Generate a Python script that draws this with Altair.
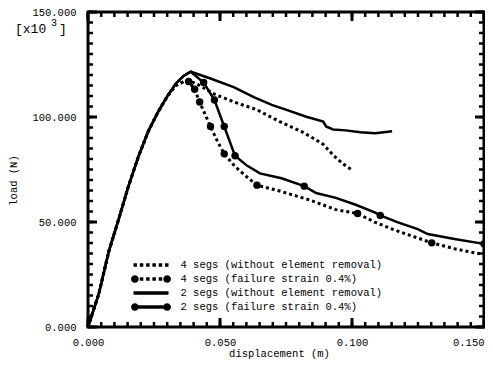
import altair as alt
import pandas as pd

FONT = "Liberation Mono"

# ---------------- data ----------------
# shared elastic branch
elastic2_x = [0.0, 0.00411, 0.00785, 0.01160, 0.01533, 0.01907, 0.02282, 0.02656, 0.03030, 0.03329, 0.0363, 0.0389]
elastic2_y = [0, 15840, 35870, 51240, 67080, 81050, 93160, 102480, 110390, 115980, 119700, 121570]
elastic4_x = [0.0, 0.00411, 0.00785, 0.01160, 0.01533, 0.01907, 0.02282, 0.02656, 0.03030, 0.0333, 0.0363]
elastic4_y = [0, 15840, 35870, 51240, 67080, 81050, 93160, 102480, 110390, 115050, 116900]

# 4 segs (without element removal)
s4a_x = [0.0381, 0.0415, 0.0479, 0.0554, 0.0640, 0.0726, 0.0815, 0.0890, 0.0931, 0.0965, 0.1002]
s4a_y = [117380, 115520, 110860, 107130, 103410, 97820, 92700, 87100, 81520, 77790, 74530]
# 4 segs (failure strain 0.4%)
s4b_x = [0.0381, 0.0404, 0.0423, 0.0464, 0.0490, 0.0516, 0.0557, 0.0595, 0.0640, 0.0726, 0.0838,
         0.0939, 0.1021, 0.1088, 0.1163, 0.1238, 0.1302, 0.1388, 0.1500]
s4b_y = [116920, 113190, 107130, 95490, 88500, 82450, 76390, 72200, 67540, 64750, 60550,
         55900, 54030, 49840, 46110, 42850, 40060, 37260, 34470]
# 2 segs (without element removal)
s2a_x = [0.0464, 0.0554, 0.0628, 0.0696, 0.0752, 0.0827, 0.0891, 0.0902, 0.0928, 0.0976, 0.1032, 0.1088, 0.1152]
s2a_y = [118310, 114120, 109460, 105740, 103410, 100150, 97820, 95490, 94090, 93630, 92700, 92230, 93160]
# 2 segs (failure strain 0.4%)
s2b_x = [0.0438, 0.0479, 0.0516, 0.0557, 0.0602, 0.0651, 0.0733, 0.0819, 0.0864, 0.0939, 0.1014,
         0.1088, 0.1107, 0.1174, 0.1249, 0.1287, 0.1388, 0.1500]
s2b_y = [116450, 108070, 95490, 81520, 76860, 73130, 70800, 67080, 63810, 61490, 58230,
         54500, 53100, 49840, 46580, 44250, 41920, 39590]

# circle markers
m4b_x = [0.0381, 0.0404, 0.0423, 0.0464, 0.0516, 0.0640, 0.1021, 0.1302]
m4b_y = [116920, 113190, 107130, 95490, 82450, 67540, 54030, 40060]
m2b_x = [0.0438, 0.0479, 0.0516, 0.0557, 0.0819, 0.1107, 0.1500]
m2b_y = [116450, 108070, 95490, 81520, 67080, 53100, 39590]

labels = ["4 segs (without element removal)", "4 segs (failure strain 0.4%)",
          "2 segs (without element removal)", "2 segs (failure strain 0.4%)"]

x_major = [0.0, 0.05, 0.10, 0.15]
y_major = [0, 50000, 100000, 150000]
x_minor = [round(0.005 * k, 4) for k in range(31)]
y_minor = [5000 * k for k in range(31)]

annot = ["[x10", "3", "]"]

W, H = 396, 315
XMAX, YMAX = 0.15, 150000

# ---------------- tables ----------------
rows = []
def add(name, xs, ys):
    for i, (a, b) in enumerate(zip(xs, ys)):
        rows.append({"series": name, "x": a, "y": b, "i": i})

add(labels[0], elastic4_x + s4a_x, elastic4_y + s4a_y)
add(labels[1], elastic4_x + s4b_x, elastic4_y + s4b_y)
add(labels[2], elastic2_x + s2a_x, elastic2_y + s2a_y)
add(labels[3], elastic2_x + s2b_x, elastic2_y + s2b_y)
df = pd.DataFrame(rows)

# inward ticks as small rectangles (length / width in pixels -> data units)
trows = []
def add_ticks(xv, yv, length, width):
    lx = length * XMAX / W
    ly = length * YMAX / H
    wx = width * XMAX / W / 2
    wy = width * YMAX / H / 2
    for v in xv:
        trows.append({"x": v - wx, "x2": v + wx, "y": 0, "y2": ly})
        trows.append({"x": v - wx, "x2": v + wx, "y": YMAX - ly, "y2": YMAX})
    for v in yv:
        trows.append({"x": 0, "x2": lx, "y": v - wy, "y2": v + wy})
        trows.append({"x": XMAX - lx, "x2": XMAX, "y": v - wy, "y2": v + wy})

add_ticks(x_minor, y_minor, 5, 2.5)
add_ticks(x_major, y_major, 9, 3)
ticks = pd.DataFrame(trows)

mk = pd.DataFrame({"x": m4b_x + m2b_x, "y": m4b_y + m2b_y})
legend_df = pd.DataFrame({"series": labels, "x": [0.0] * 4, "y": [0.0] * 4})

xscale = alt.Scale(domain=[0, XMAX], nice=False, zero=False)
yscale = alt.Scale(domain=[0, YMAX], nice=False, zero=False)

base_ax = dict(grid=False, domain=False, ticks=False,
               labelFont=FONT, labelFontSize=10.5,
               labelColor="black", titleFont=FONT, titleFontSize=10.5, titleColor="black",
               titleFontWeight="normal", labelFlush=False, labelOverlap=False)

x_axis = alt.Axis(orient="bottom", values=x_major, format=".3f", labelPadding=10,
                  labelAlign={"condition": {"test": "datum.value > 0.149", "value": "right"}, "value": "center"},
                  title="displacement (m)", titleX=191, titleY=26, titleBaseline="middle",
                  titleAlign="center", **base_ax)
y_axis = alt.Axis(orient="left", values=y_major, labelExpr="format(datum.value / 1000, '.3f')",
                  labelPadding=12, title="load (N)", titleAngle=270, titleX=-75, titleY=168,
                  titleBaseline="middle", titleAlign="center", **base_ax)

X = alt.X("x:Q", scale=xscale, axis=x_axis)
Y = alt.Y("y:Q", scale=yscale, axis=y_axis)

base = alt.Chart(df).encode(x=X, y=Y, detail="series:N", order="i:Q")

dotted = base.transform_filter(
    alt.FieldOneOfPredicate(field="series", oneOf=[labels[0], labels[1]])
).mark_line(color="black", strokeWidth=3, strokeDash=[3, 3], strokeCap="butt")

solid = base.transform_filter(
    alt.FieldOneOfPredicate(field="series", oneOf=[labels[2], labels[3]])
).mark_line(color="black", strokeWidth=2.5)

markers = alt.Chart(mk).mark_circle(color="black", size=55, opacity=1).encode(x=X, y=Y)

tick_layer = alt.Chart(ticks).mark_rect(color="black", opacity=1).encode(
    x=X, x2="x2:Q", y=Y, y2="y2:Q")

# ---------------- legend with custom symbols ----------------
def rect(x0, x1, h=0.25):
    return f"M{x0:.3f},{-h}H{x1:.3f}V{h}H{x0:.3f}Z"

def circ(cx, r=0.55):
    return f"M{cx - r:.3f},0A{r} {r} 0 1 1 {cx + r:.3f},0A{r} {r} 0 1 1 {cx - r:.3f},0Z"

p_dots = "".join(rect(-2.5 + 0.9 * i, -2.0 + 0.9 * i) for i in range(6))
p_dots_circ = circ(-2.3) + "".join(rect(c - 0.25, c + 0.25) for c in [-1.35, -0.45, 0.45, 1.35]) + circ(2.3)
p_solid = rect(-2.5, 2.5)
p_solid_circ = circ(-2.3) + rect(-2.3, 2.3) + circ(2.3)

legend_layer = alt.Chart(legend_df).transform_filter("datum.x < 0").mark_point(
    filled=True, color="black", opacity=1
).encode(
    x=X, y=Y,
    shape=alt.Shape("series:N",
                    scale=alt.Scale(domain=labels, range=[p_dots, p_dots_circ, p_solid, p_solid_circ]),
                    legend=alt.Legend(orient="none", legendX=56, legendY=246, title=None,
                                      symbolSize=196, symbolStrokeWidth=0, symbolFillColor="black",
                                      symbolOpacity=1, labelFont=FONT, labelFontSize=10.5,
                                      labelColor="black", labelOffset=22.5, rowPadding=1,
                                      padding=0, labelLimit=400))
)

# ---------------- "[x10 3]" annotation ----------------
t1 = alt.Chart(pd.DataFrame({"t": [annot[0]]})).mark_text(
    font=FONT, fontSize=13, align="left", baseline="middle", color="black"
).encode(text="t:N", x=alt.value(-73), y=alt.value(17))
t2 = alt.Chart(pd.DataFrame({"t": [annot[1]]})).mark_text(
    font=FONT, fontSize=10, align="left", baseline="middle", color="black"
).encode(text="t:N", x=alt.value(-37), y=alt.value(11))
t3 = alt.Chart(pd.DataFrame({"t": [annot[2]]})).mark_text(
    font=FONT, fontSize=13, align="left", baseline="middle", color="black"
).encode(text="t:N", x=alt.value(-29), y=alt.value(17))

chart = alt.layer(
    dotted, solid, markers, tick_layer, legend_layer, t1, t2, t3
).properties(
    width=W, height=H,
    autosize=alt.AutoSizeParams(type="none"),
    padding={"left": 80, "top": 4, "right": 1, "bottom": 33},
    background="white",
).configure_view(stroke="black", strokeWidth=3)

chart.save("out.html", embed_options={"renderer": "svg", "actions": False})
